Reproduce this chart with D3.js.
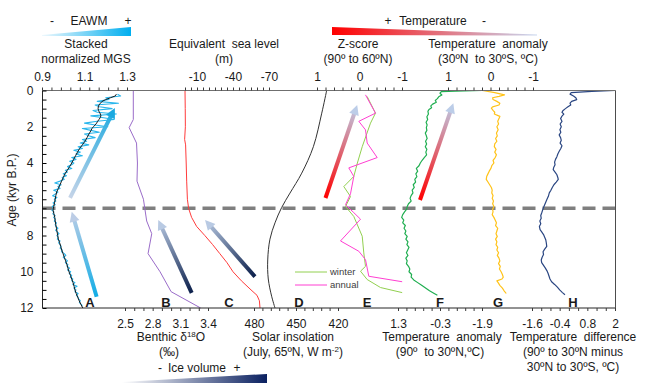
<!DOCTYPE html>
<html>
<head>
<meta charset="utf-8">
<script src="https://cdn.jsdelivr.net/npm/d3@7"></script>
<style>
  body { margin: 0; background: #fff; }
  svg text { font-family: "Liberation Sans", Arial, sans-serif; font-size: 12px; fill: #1a1a1a; }
</style>
</head>
<body>
<div id="chart"></div>
<script>
// ---- data (age in kyr B.P., value) ----
// A: stacked normalized MGS, raw record every 0.1 kyr starting at 0.2 kyr
var mgsRawStart = 0.2, mgsRawStep = 0.1;
var mgsRaw = [1.255,1.27,1.20,1.215,1.16,1.26,1.15,1.17,1.23,1.14,1.16,1.25,1.13,1.19,1.24,1.16,1.10,1.15,1.21,1.09,
  1.13,1.17,1.10,1.12,1.15,1.09,1.11,1.08,1.12,1.07,1.09,1.05,1.08,1.06,1.09,1.04,1.06,1.03,1.05,1.04,
  1.02,1.04,1.01,1.02,1.00,1.015,0.995,1.005,0.985,0.96,0.99,0.975,0.985,0.955,0.975,0.965,0.95,0.97,0.958,0.965,
  0.952,0.962,0.948,0.955,0.946,0.956,0.951,0.962,0.955,0.963,0.958,0.968,0.962,0.965,0.975,0.964,0.972,0.98,0.97,0.976,
  0.972,0.985,0.978,0.985,0.99,0.985,0.995,0.992,1.005,1.012,1.0,1.01,1.02,1.01,1.022,1.018,1.03,1.02,1.035,1.028,
  1.04,1.033,1.045,1.04,1.055,1.045,1.065,1.05,1.06,1.055,1.07,1.062,1.07,1.072,1.08,1.076,1.085,1.09];
// A: smoothed MGS
var mgsSmooth = [[0.2,1.25],[0.3,1.245],[0.4,1.222],[0.5,1.2],[0.6,1.183],[0.7,1.175],[0.8,1.168],[0.9,1.165],[1.0,1.164],
  [1.1,1.166],[1.2,1.17],[1.3,1.175],[1.4,1.177],[1.5,1.174],[1.6,1.168],[1.7,1.162],[1.8,1.157],[1.9,1.15],[2.0,1.142],
  [2.1,1.135],[2.2,1.131],[2.4,1.121],[2.6,1.112],[2.8,1.102],[3.0,1.09],[3.2,1.077],[3.4,1.067],[3.6,1.058],[3.8,1.049],
  [4.0,1.04],[4.2,1.03],[4.4,1.019],[4.6,1.008],[4.8,1.0],[5.0,0.992],[5.2,0.985],[5.4,0.977],[5.6,0.969],[5.8,0.965],
  [6.0,0.962],[6.2,0.959],[6.4,0.955],[6.6,0.952],[6.8,0.956],[7.0,0.96],[7.2,0.962],[7.4,0.965],[7.6,0.968],[7.8,0.971],
  [8.0,0.974],[8.2,0.977],[8.4,0.983],[8.6,0.988],[8.8,0.993],[9.0,0.999],[9.2,1.005],[9.4,1.011],[9.6,1.017],[9.8,1.022],
  [10.0,1.027],[10.2,1.034],[10.4,1.04],[10.6,1.046],[10.8,1.051],[11.0,1.055],[11.2,1.061],[11.4,1.068],[11.6,1.075],
  [11.8,1.083],[12.0,1.092]];
// B: benthic d18O
var benthic = [[0,2.59],[1.6,2.59],[2.05,2.545],[2.9,2.625],[4,2.635],[5,2.63],[6,2.70],[7.2,2.735],[7.9,2.79],
  [9,2.75],[10,2.88],[11.1,3.0],[12,3.32]];
// C: equivalent sea level (m)
var seaLevel = [[0,0],[1,-0.2],[2,-0.3],[2.7,0.3],[3,-0.5],[4,-1],[5,-1.4],[6,-2],[6.5,-3],[7,-5.5],[7.5,-9.7],
  [8,-16.5],[8.5,-23],[9,-29],[9.5,-35],[10,-40],[10.5,-47],[11,-55],[11.3,-60],[11.6,-62],[12,-62.5]];
// D: July insolation 65N
var insolation = [[0,428.1],[1.25,431.6],[3.1,437.6],[4.56,445.9],[5.66,454.3],[6.45,460.2],[7.3,465],[8.2,468.6],
  [9.35,470.2],[10.4,469.8],[11.35,467.4],[12,465]];
// E: Z-score 90-60N
var zWinter = [[0.33,-0.18],[1.25,-0.376],[1.8,-0.259],[3.1,-0.064],[4.0,0.05],[4.74,0.134],[5.3,0.369],[5.85,0.212],
  [6.4,0.329],[6.95,0.134],[8.04,-0.064],[8.96,-0.101],[9.7,-0.141],[9.97,-0.024],[10.43,-0.181],[10.87,-0.494],[11.15,-1.004]];
var zAnnual = [[0.24,-0.141],[1.25,-0.376],[1.7,0.016],[2.17,-0.141],[2.9,-0.181],[3.7,-0.416],[4.27,0.252],[4.74,0.134],
  [5.7,0.212],[6.3,0.329],[6.74,0.134],[7.1,-0.024],[8.3,0.447],[8.87,0.016],[9.33,-0.141],[10.25,-0.219],[10.55,-1.004]];
// F: temperature anomaly 90-30N
var tempNH = [[0.0,-1.9],[0.03,-0.9],[0.06,-0.35],[0.15,-0.30],[0.25,-0.37],[0.35,-0.25],[0.45,-0.2],[0.55,-0.12],
  [0.65,-0.16],[0.75,-0.02],[0.85,0.05],[0.95,0.02],[1.05,0.12],[1.15,0.16],[1.3,0.14],[1.45,0.2],[1.6,0.17],[1.75,0.23],
  [1.9,0.19],[2.05,0.22],[2.2,0.2],[2.35,0.26],[2.5,0.22],[2.65,0.19],[2.8,0.25],[2.95,0.21],[3.1,0.26],[3.25,0.2],
  [3.4,0.24],[3.55,0.21],[3.7,0.3],[3.85,0.38],[4.0,0.45],[4.15,0.5],[4.3,0.6],[4.45,0.55],[4.6,0.62],[4.75,0.58],
  [4.9,0.66],[5.05,0.63],[5.2,0.72],[5.35,0.68],[5.5,0.76],[5.65,0.73],[5.8,0.8],[5.95,0.84],[6.1,0.8],[6.25,0.9],
  [6.4,0.95],[6.55,0.97],[6.7,1.05],[6.85,1.12],[7.0,1.16],[7.15,1.08],[7.3,1.12],[7.45,1.02],[7.6,1.07],[7.75,1.0],
  [7.9,1.04],[8.05,0.95],[8.2,1.0],[8.35,0.92],[8.5,0.96],[8.65,0.88],[8.8,0.93],[8.95,0.98],[9.1,0.92],[9.25,1.0],
  [9.4,0.95],[9.55,0.98],[9.7,0.9],[9.85,0.85],[10.0,0.88],[10.15,0.78],[10.3,0.8],[10.45,0.7],[10.6,0.55],[10.75,0.4],
  [10.9,0.25],[11.05,0.1],[11.2,-0.08],[11.3,-0.2]];
// G: temperature anomaly 30N-30S
var tempTrop = [[0,0.19],[0.12,-0.1],[0.24,-0.33],[0.32,-0.2],[0.4,-0.05],[0.5,-0.06],[0.6,-0.15],[0.7,-0.22],[0.8,-0.2],
  [0.9,-0.05],[0.97,-0.02],[1.1,-0.06],[1.2,-0.1],[1.3,-0.09],[1.43,-0.22],[1.55,-0.2],[1.7,-0.17],[1.85,-0.19],[2.0,-0.15],
  [2.17,-0.18],[2.35,-0.14],[2.5,-0.16],[2.65,-0.12],[2.8,-0.15],[2.95,-0.1],[3.1,-0.09],[3.25,-0.13],[3.4,-0.1],
  [3.55,-0.14],[3.7,-0.11],[3.85,-0.06],[4.0,-0.08],[4.15,-0.03],[4.3,-0.01],[4.45,0.03],[4.6,0.06],[4.75,0.09],[4.9,0.1],
  [5.05,0.06],[5.2,0.02],[5.35,-0.02],[5.5,-0.04],[5.65,-0.03],[5.8,-0.06],[5.95,-0.04],[6.1,-0.07],[6.25,-0.05],
  [6.4,-0.08],[6.55,-0.05],[6.7,-0.06],[6.85,-0.04],[7.0,-0.08],[7.15,-0.11],[7.3,-0.14],[7.45,-0.12],[7.6,-0.17],
  [7.75,-0.15],[7.9,-0.13],[8.05,-0.16],[8.2,-0.12],[8.35,-0.15],[8.5,-0.13],[8.65,-0.17],[8.8,-0.15],[8.95,-0.19],
  [9.1,-0.16],[9.25,-0.2],[9.4,-0.22],[9.55,-0.19],[9.7,-0.23],[9.85,-0.21],[10.0,-0.25],[10.15,-0.28],[10.3,-0.3],
  [10.4,-0.27],[10.5,-0.15],[10.6,-0.18],[10.75,-0.22],[10.9,-0.28],[11.05,-0.32],[11.2,-0.37]];
// H: temperature difference
var tempDiff = [[0,2.0],[0.05,1.0],[0.12,0.1],[0.2,0.05],[0.3,0.2],[0.4,0.3],[0.5,0.34],[0.6,0.12],[0.7,0.05],[0.8,0.08],
  [0.9,-0.04],[1.0,-0.15],[1.1,-0.25],[1.2,-0.3],[1.3,-0.22],[1.43,-0.31],[1.55,-0.36],[1.7,-0.3],[1.85,-0.38],[2.0,-0.33],
  [2.17,-0.39],[2.3,-0.35],[2.45,-0.42],[2.6,-0.36],[2.75,-0.33],[2.9,-0.38],[3.05,-0.3],[3.2,-0.35],[3.35,-0.42],
  [3.5,-0.48],[3.65,-0.52],[3.8,-0.58],[3.95,-0.62],[4.1,-0.6],[4.25,-0.66],[4.37,-0.68],[4.5,-0.6],[4.65,-0.52],
  [4.8,-0.48],[4.9,-0.46],[5.05,-0.55],[5.2,-0.65],[5.35,-0.72],[5.5,-0.78],[5.65,-0.85],[5.84,-0.89],[6.0,-0.95],
  [6.15,-1.0],[6.3,-1.05],[6.45,-1.1],[6.6,-1.14],[6.76,-1.18],[6.9,-1.22],[7.05,-1.2],[7.2,-1.26],[7.35,-1.22],
  [7.5,-1.28],[7.68,-1.25],[7.8,-1.18],[7.95,-1.1],[8.1,-1.05],[8.25,-1.0],[8.4,-0.98],[8.6,-0.96],[8.75,-1.05],
  [8.9,-1.12],[9.05,-1.1],[9.2,-1.16],[9.35,-1.2],[9.5,-1.18],[9.65,-1.1],[9.8,-1.02],[9.95,-0.95],[10.1,-0.9],
  [10.25,-0.86],[10.4,-0.82],[10.55,-0.75],[10.7,-0.62],[10.85,-0.5],[11.0,-0.4],[11.15,-0.28],[11.27,-0.17]];

// tick labels
var ageTicks = [0, 2, 4, 6, 8, 10, 12];
var mgsTicks = [0.9, 1.1, 1.3];
var seaTicks = [-10, -40, -70];
var zTicks = [1, 0, -1];
var tropTicks = [1, 0, -1];
var d18oTicks = [2.5, 2.8, 3.1, 3.4];
var insolTicks = [480, 450, 420];
var nhTicks = [1.3, -0.3, -1.9];
var diffTicks = [-1.6, -0.4, 0.8, 2];
var boundaryAge = 6.5;

// ---- svg ----
var svg = d3.select("#chart").append("svg").attr("width", 650).attr("height", 387);
var defs = svg.append("defs");

var y = d3.scaleLinear().domain([0, 12]).range([90.5, 308]);
var xA = d3.scaleLinear().domain([0.9, 1.3]).range([42, 127]);
var xB = d3.scaleLinear().domain([2.5, 3.4]).range([125, 208]);
var xC = d3.scaleLinear().domain([0, -70]).range([185, 269]);
var xD = d3.scaleLinear().domain([480, 420]).range([254, 338]);
var xE = d3.scaleLinear().domain([1, -1]).range([317, 402]);
var xF = d3.scaleLinear().domain([1.3, -1.9]).range([398, 482]);
var xG = d3.scaleLinear().domain([1, -1]).range([448, 533]);
var xH = d3.scaleLinear().domain([-1.6, 2]).range([532, 615]);
var left = 42.5, right = 615.5;

function steps(a, b, n) {
  return d3.range(n + 1).map(function (i) { return a + (b - a) * i / n; });
}

// dashed 6.5 kyr line
svg.append("line")
  .attr("x1", left).attr("x2", right)
  .attr("y1", y(boundaryAge)).attr("y2", y(boundaryAge))
  .attr("stroke", "#7f7f7f").attr("stroke-width", 3.5)
  .attr("stroke-dasharray", "13,7");

// curves
function curve(data, sx, color, width, interp) {
  var line = d3.line()
    .x(function (d) { return sx(d[1]); })
    .y(function (d) { return y(d[0]); });
  if (interp) line.curve(interp);
  svg.append("path").datum(data)
    .attr("fill", "none").attr("stroke", color)
    .attr("stroke-width", width).attr("stroke-linejoin", "round")
    .attr("d", line);
}
var mgsRawPts = mgsRaw.map(function (v, i) { return [mgsRawStart + i * mgsRawStep, v]; });
curve(mgsRawPts, xA, "#29b6ec", 1.1);
curve(mgsSmooth, xA, "#1a1a1a", 1);
curve(benthic, xB, "#9a6cc9", 1);
curve(seaLevel, xC, "#ff3b3b", 1);
curve(insolation, xD, "#333333", 1, d3.curveCatmullRom);
curve(zWinter, xE, "#92d050", 1);
curve(zAnnual, xE, "#ff3fd2", 1);
curve(tempNH, xF, "#1fae50", 1.2);
curve(tempTrop, xG, "#ffc31a", 1.2);
curve(tempDiff, xH, "#2a4682", 1.2);

// frame
var frame = svg.append("g").attr("stroke", "#4d4d4d").attr("stroke-width", 1);
frame.append("line").attr("x1", left).attr("x2", right).attr("y1", y(0)).attr("y2", y(0)).attr("stroke", "#6f6f6f");
frame.append("line").attr("x1", left).attr("x2", right).attr("y1", y(12)).attr("y2", y(12)).attr("stroke", "#262626");
frame.append("line").attr("x1", left).attr("x2", left).attr("y1", y(0)).attr("y2", y(12)).attr("stroke", "#262626");
frame.append("line").attr("x1", right).attr("x2", right).attr("y1", y(0)).attr("y2", y(12));

// left axis
var ya = svg.append("g").attr("transform", "translate(" + left + ",0)")
  .call(d3.axisLeft(y).tickValues(d3.range(0, 12.01, 0.5)).tickSize(-4).tickFormat(""));
ya.select(".domain").remove();
var yl = svg.append("g").attr("transform", "translate(" + left + ",0)")
  .call(d3.axisLeft(y).tickValues(ageTicks).tickSize(0).tickPadding(9).tickFormat(String));
yl.select(".domain").remove();

// top/bottom axes
function hAxis(scale, minor, labels, top) {
  var ypos = top ? y(0) : y(12);
  var mk = top ? d3.axisTop : d3.axisBottom;
  var a = svg.append("g").attr("transform", "translate(0," + ypos + ")")
    .call(mk(scale).tickValues(minor).tickSize(3).tickFormat(""));
  a.select(".domain").remove();
  a.selectAll("line").attr("stroke", "#3a3a3a");
  var b = svg.append("g").attr("transform", "translate(0," + ypos + ")")
    .call(mk(scale).tickValues(labels).tickSize(0).tickPadding(top ? 10 : 11).tickFormat(String));
  b.select(".domain").remove();
}
hAxis(xA, steps(0.9, 1.3, 9), mgsTicks, true);
hAxis(xC, steps(0, -70, 14), seaTicks, true);
hAxis(xE, steps(1, -1, 10), zTicks, true);
hAxis(xG, steps(1, -1, 10), tropTicks, true);
hAxis(xB, steps(2.5, 3.4, 9), d18oTicks, false);
hAxis(xD, steps(480, 420, 10), insolTicks, false);
hAxis(xF, steps(1.3, -1.9, 10), nhTicks, false);
hAxis(xH, steps(-1.6, 2, 9), diffTicks, false);
svg.selectAll(".tick text").style("font-size", "12px").style("fill", "#1a1a1a");

// arrows (annotation, in panel data coordinates)
var arrows = [
  { sx: xA, tail: [5.93, 1.032], head: [0.97, 1.243], c0: "#c6d4e8", c1: "#1aa9e0" },
  { sx: xA, tail: [11.38, 1.157], head: [6.69, 1.04], c0: "#12ade6", c1: "#bccde6" },
  { sx: xB, tail: [11.17, 3.223], head: [7.14, 2.861], c0: "#0b1f4b", c1: "#b9cae3" },
  { sx: xC, tail: [10.27, -58.3], head: [7.14, -16.7], c0: "#0b1f4b", c1: "#b9cae3" },
  { sx: xE, tail: [5.93, 0.8], head: [0.8, 0.054], c0: "#ff0000", c1: "#bccde8" },
  { sx: xF, tail: [6.04, 0.462], head: [0.7, -0.807], c0: "#ff0000", c1: "#bccde8" }
];
arrows.forEach(function (a, i) {
  var x0 = a.sx(a.tail[1]), y0 = y(a.tail[0]);
  var x1 = a.sx(a.head[1]), y1 = y(a.head[0]);
  var len = Math.hypot(x1 - x0, y1 - y0), ux = (x1 - x0) / len, uy = (y1 - y0) / len;
  var hl = 10, hw = 5;
  var bx = x1 - ux * hl, by = y1 - uy * hl;
  var grad = defs.append("linearGradient").attr("id", "ag" + i)
    .attr("gradientUnits", "userSpaceOnUse")
    .attr("x1", x0).attr("y1", y0).attr("x2", x1).attr("y2", y1);
  grad.append("stop").attr("offset", 0).attr("stop-color", a.c0);
  grad.append("stop").attr("offset", 1).attr("stop-color", a.c1);
  svg.append("line").attr("x1", x0).attr("y1", y0).attr("x2", bx + ux).attr("y2", by + uy)
    .attr("stroke", "url(#ag" + i + ")").attr("stroke-width", 4);
  svg.append("path")
    .attr("d", "M" + x1 + "," + y1 + "L" + (bx - uy * hw) + "," + (by + ux * hw) + "L" + (bx + uy * hw) + "," + (by - ux * hw) + "Z")
    .attr("fill", a.c1);
});

// panel letters
var letters = [["A", 90], ["B", 166], ["C", 229], ["D", 299], ["E", 367], ["F", 440], ["G", 498], ["H", 573]];
svg.selectAll(".letter").data(letters).enter().append("text")
  .attr("x", function (d) { return d[1]; }).attr("y", 307)
  .attr("text-anchor", "middle").style("font-weight", "bold").style("font-size", "13px")
  .text(function (d) { return d[0]; });

// legend in panel E
svg.append("line").attr("x1", 295).attr("x2", 327).attr("y1", 272).attr("y2", 272).attr("stroke", "#92d050");
svg.append("line").attr("x1", 295).attr("x2", 327).attr("y1", 285).attr("y2", 285).attr("stroke", "#ff3fd2");
svg.append("text").attr("x", 330).attr("y", 275).style("font-size", "9.5px").style("fill", "#404040").text("winter");
svg.append("text").attr("x", 330).attr("y", 288).style("font-size", "9.5px").style("fill", "#404040").text("annual");

// wedges
function wedge(id, pts, c0, c1, x0, x1) {
  var g = defs.append("linearGradient").attr("id", id).attr("gradientUnits", "userSpaceOnUse")
    .attr("x1", x0).attr("x2", x1).attr("y1", 0).attr("y2", 0);
  g.append("stop").attr("offset", 0).attr("stop-color", c0);
  g.append("stop").attr("offset", 1).attr("stop-color", c1);
  svg.append("polygon").attr("points", pts).attr("fill", "url(#" + id + ")");
}
wedge("wEawm", "42,35 131,27 131,36 42,36", "#eef8fd", "#00aeef", 42, 131);
wedge("wTemp", "332,27 537,34.5 537,35.5 332,35", "#ff0000", "#c8d8f0", 332, 537);
wedge("wIce", "122,382 267,374 267,383 122,383", "#ffffff", "#0a2060", 122, 267);

// titles
function label(x, yy, t, anchor) {
  return svg.append("text").attr("x", x).attr("y", yy)
    .attr("text-anchor", anchor || "middle").attr("xml:space", "preserve").text(t);
}
label(52, 25, "-"); label(89, 25, "EAWM"); label(128, 25, "+");
label(86, 48, "Stacked"); label(86, 63, "normalized MGS");
label(224, 48, "Equivalent  sea level"); label(224, 63, "(m)");
label(388, 25, "+"); label(433, 25, "Temperature"); label(484, 25, "-");
label(358, 48, "Z-score"); label(358, 63, "(90º to 60ºN)");
label(488, 48, "Temperature  anomaly"); label(488, 63, "(30ºN  to 30ºS, ºC)");

var b1 = label(171, 341, "Benthic δ");
b1.append("tspan").attr("dy", -4).style("font-size", "8px").text("18");
b1.append("tspan").attr("dy", 4).text("O");
label(169, 356, "(‰)");
label(293, 341, "Solar insolation");
var b2 = label(293, 356, "(July, 65ºN, W m");
b2.append("tspan").attr("dy", -4).style("font-size", "8px").text("-2");
b2.append("tspan").attr("dy", 4).text(")");
label(160, 372, "-"); label(197, 372, "Ice volume"); label(237, 372, "+");
label(442, 341, "Temperature  anomaly"); label(440, 356, "(90º  to 30ºN,ºC)");
label(573, 341, "Temperature  difference"); label(573, 356, "(90º to 30ºN minus"); label(573, 371, "30ºN to 30ºS, ºC)");

svg.append("text").attr("transform", "translate(16,190) rotate(-90)")
  .attr("text-anchor", "middle").text("Age (kyr B.P.)");
</script>
</body>
</html>
